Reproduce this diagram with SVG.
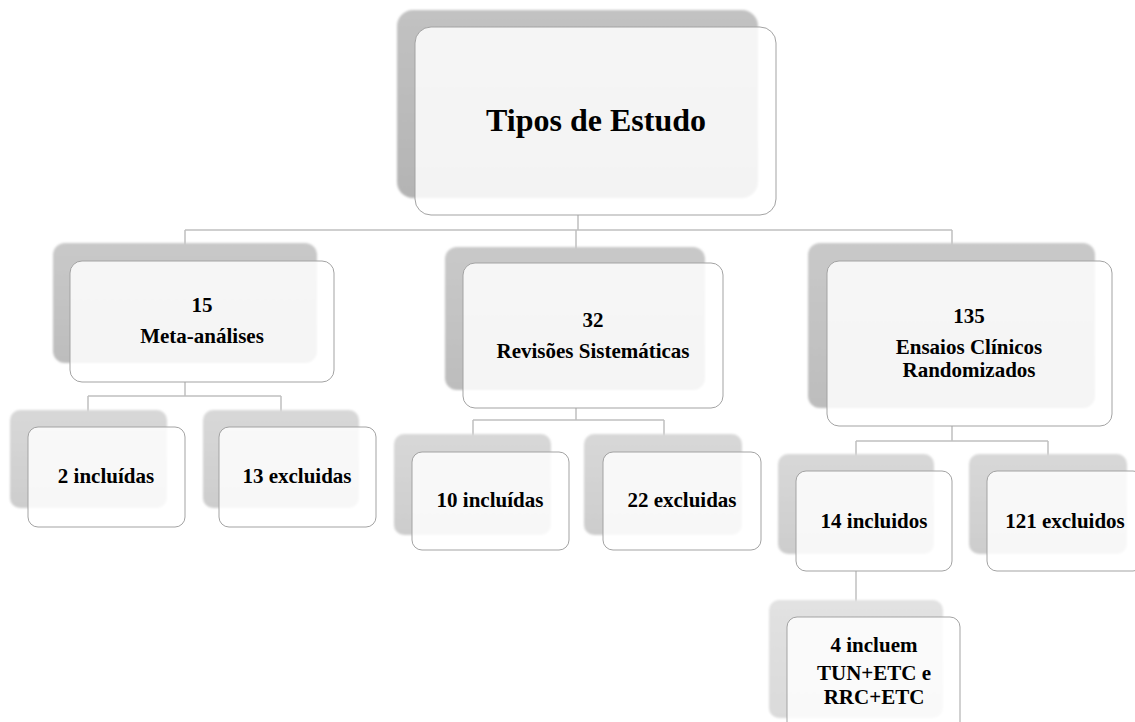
<svg xmlns="http://www.w3.org/2000/svg" width="1135" height="722" viewBox="0 0 1135 722">
<defs>
<linearGradient id="sh0" x1="0" y1="0" x2="0" y2="1"><stop offset="0" stop-color="#c2c2c2"/><stop offset="1" stop-color="#b4b4b4"/></linearGradient>
<linearGradient id="sh1" x1="0" y1="0" x2="0" y2="1"><stop offset="0" stop-color="#c9c9c9"/><stop offset="1" stop-color="#bdbdbd"/></linearGradient>
<linearGradient id="sh2" x1="0" y1="0" x2="0" y2="1"><stop offset="0" stop-color="#d8d8d8"/><stop offset="1" stop-color="#cdcdcd"/></linearGradient>
<linearGradient id="sh3" x1="0" y1="0" x2="0" y2="1"><stop offset="0" stop-color="#e2e2e2"/><stop offset="1" stop-color="#dadada"/></linearGradient>
<filter id="soft" x="-5%" y="-5%" width="110%" height="110%"><feGaussianBlur stdDeviation="1.2"/></filter>
</defs>
<style>
.box{fill:#ffffff;fill-opacity:0.84;stroke:#a3a3a3;stroke-width:1}
.sh{filter:url(#soft)}
.con{fill:none;stroke:#c0c0c0;stroke-width:1.5}
text{font-family:"Liberation Serif","Times New Roman",serif;font-weight:bold;fill:#000;text-anchor:middle}
.t0{font-size:32px}
.t{font-size:21px}
</style>
<rect width="1135" height="722" fill="#ffffff"/>
<g id="connectors">
<path class="con" d="M578 215 V230 M185 230 H952 M185 230 V261 M576 230 V263 M952 230 V261"/>
<path class="con" d="M185 382 V396 M88 396 H281 M88 396 V427 M281 396 V427"/>
<path class="con" d="M576 408 V420 M473 420 H664 M473 420 V452 M664 420 V452"/>
<path class="con" d="M952 426 V441 M856 441 H1048 M856 441 V471 M1048 441 V471"/>
<path class="con" d="M856 571 V617"/>
</g>
<g id="n-tipos">
<rect class="sh" x="397" y="10" width="361" height="188" rx="16" fill="url(#sh0)"/>
<rect class="box" x="415" y="27" width="361" height="188" rx="16"/>
<text class="t0" x="596" y="131">Tipos de Estudo</text>
</g>
<g id="n-meta">
<rect class="sh" x="53" y="243" width="264" height="120" rx="12" fill="url(#sh1)"/>
<rect class="box" x="70" y="261" width="264" height="121" rx="12"/>
<text class="t" x="202" y="312">15</text>
<text class="t" x="202" y="343">Meta-análises</text>
</g>
<g id="n-revisoes">
<rect class="sh" x="445" y="247" width="260" height="143" rx="12" fill="url(#sh1)"/>
<rect class="box" x="463" y="263" width="260" height="145" rx="12"/>
<text class="t" x="593" y="327">32</text>
<text class="t" x="593" y="358">Revisões Sistemáticas</text>
</g>
<g id="n-ensaios">
<rect class="sh" x="808" y="243" width="287" height="165" rx="12" fill="url(#sh1)"/>
<rect class="box" x="827" y="261" width="285" height="165" rx="12"/>
<text class="t" x="969" y="323">135</text>
<text class="t" x="969" y="354">Ensaios Clínicos</text>
<text class="t" x="969" y="377">Randomizados</text>
</g>
<g id="n-meta-inc">
<rect class="sh" x="10" y="410" width="157" height="98" rx="10" fill="url(#sh2)"/>
<rect class="box" x="28" y="427" width="157" height="100" rx="10"/>
<text class="t" x="106" y="483">2 incluídas</text>
</g>
<g id="n-meta-exc">
<rect class="sh" x="203" y="410" width="156" height="98" rx="10" fill="url(#sh2)"/>
<rect class="box" x="219" y="427" width="157" height="100" rx="10"/>
<text class="t" x="297" y="483">13 excluidas</text>
</g>
<g id="n-rev-inc">
<rect class="sh" x="394" y="434" width="157" height="101" rx="10" fill="url(#sh2)"/>
<rect class="box" x="412" y="452" width="157" height="98" rx="10"/>
<text class="t" x="490" y="507">10 incluídas</text>
</g>
<g id="n-rev-exc">
<rect class="sh" x="584" y="434" width="158" height="101" rx="10" fill="url(#sh2)"/>
<rect class="box" x="603" y="452" width="158" height="98" rx="10"/>
<text class="t" x="682" y="507">22 excluidas</text>
</g>
<g id="n-ens-inc">
<rect class="sh" x="778" y="454" width="156" height="100" rx="10" fill="url(#sh2)"/>
<rect class="box" x="796" y="471" width="156" height="100" rx="10"/>
<text class="t" x="874" y="528">14 incluidos</text>
</g>
<g id="n-ens-exc">
<rect class="sh" x="969" y="454" width="158" height="100" rx="10" fill="url(#sh2)"/>
<rect class="box" x="987" y="471" width="156" height="100" rx="10"/>
<text class="t" x="1065" y="528">121 excluidos</text>
</g>
<g id="n-incluem">
<rect class="sh" x="769" y="600" width="174" height="118" rx="10" fill="url(#sh3)"/>
<rect class="box" x="787" y="617" width="173" height="118" rx="10"/>
<text class="t" x="874" y="652">4 incluem</text>
<text class="t" x="874" y="680">TUN+ETC e</text>
<text class="t" x="874" y="704">RRC+ETC</text>
</g>
</svg>
